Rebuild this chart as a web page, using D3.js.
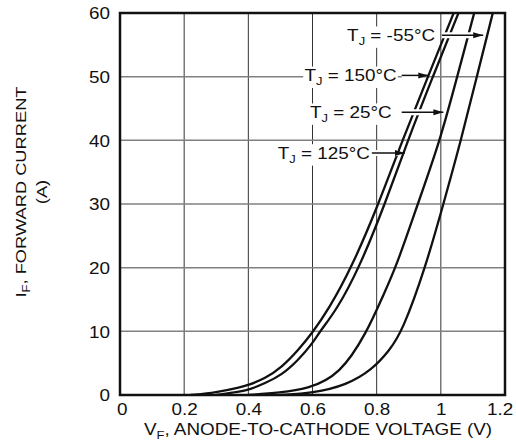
<!DOCTYPE html>
<html>
<head>
<meta charset="utf-8">
<script src="https://cdn.jsdelivr.net/npm/d3@7"></script>
<style>body{margin:0;background:#fff;}</style>
</head>
<body>
<div id="chart"></div>
<script>
// axis ticks
const voltTicks = [0, 0.2, 0.4, 0.6, 0.8, 1.0, 1.2];
const currentTicks = [0, 10, 20, 30, 40, 50, 60];

// forward characteristic, [V_F (V), I_F (A)]
const curve150 = [[0.22, 0], [0.30, 0.4], [0.374, 1.2], [0.40, 1.57], [0.452, 2.6], [0.504, 4.35], [0.556, 7.07], [0.60, 9.8], [0.649, 13.35], [0.722, 20], [0.806, 30], [0.880, 40], [0.960, 50], [1.040, 60]];
const curve125 = [[0.30, 0], [0.374, 0.52], [0.40, 0.79], [0.452, 1.83], [0.504, 3.14], [0.556, 5.5], [0.60, 8.1], [0.623, 10], [0.675, 13.35], [0.746, 20], [0.826, 30], [0.897, 40], [0.975, 50], [1.055, 60]];
const curve25 = [[0.40, 0], [0.50, 0.4], [0.582, 0.89], [0.686, 3.14], [0.771, 10], [0.818, 15.4], [0.860, 20], [0.928, 30], [0.998, 40], [1.051, 50], [1.104, 60]];
const curveM55 = [[0.50, 0], [0.60, 0.26], [0.707, 1.57], [0.785, 3.93], [0.840, 7.0], [0.880, 10], [0.952, 20], [1.008, 30], [1.063, 40], [1.112, 50], [1.162, 60]];

const temps = ["-55°C", "150°C", "25°C", "125°C"];

const width = 516, height = 444;
const SX = 1.18; // glyphs in the scan are drawn wider than Arial

const x = d3.scaleLinear().domain([0, 1.2]).range([120, 505]);
const y = d3.scaleLinear().domain([0, 60]).range([395, 13]);

// label placement (data units): text right edge, arrow start, arrow tip
const notes = [
    {t: temps[0], tx: 0.982, ti: 56.5, a0: 1.003, a1: 1.132},
    {t: temps[1], tx: 0.862, ti: 50.2, a0: 0.878, a1: 0.961},
    {t: temps[2], tx: 0.847, ti: 44.4, a0: 0.878, a1: 1.008},
    {t: temps[3], tx: 0.779, ti: 38.0, a0: 0.785, a1: 0.888}
];

const svg = d3.select("#chart").append("svg")
    .attr("width", width)
    .attr("height", height)
    .style("font-family", "'Liberation Sans', Arial, sans-serif");

svg.append("defs").append("clipPath").attr("id", "plot")
    .append("rect")
    .attr("x", x(0)).attr("y", y(60))
    .attr("width", x(1.2) - x(0)).attr("height", y(0) - y(60));

svg.append("defs").append("marker")
    .attr("id", "head")
    .attr("markerUnits", "userSpaceOnUse")
    .attr("markerWidth", 11).attr("markerHeight", 8)
    .attr("refX", 10).attr("refY", 3)
    .attr("orient", "auto")
    .append("path")
    .attr("d", "M0,0 L10,3 L0,6 Z")
    .attr("fill", "#111");

// grid
svg.append("g")
    .selectAll("line")
    .data(voltTicks.slice(1, -1))
    .join("line")
    .attr("x1", d => x(d)).attr("x2", d => x(d))
    .attr("y1", y(60)).attr("y2", y(0))
    .attr("stroke", "#333").attr("stroke-width", 1);

svg.append("g")
    .selectAll("line")
    .data(currentTicks.slice(1, -1))
    .join("line")
    .attr("x1", x(0)).attr("x2", x(1.2))
    .attr("y1", d => y(d)).attr("y2", d => y(d))
    .attr("stroke", "#808080").attr("stroke-width", 1.5);

// tick labels
const xAxis = svg.append("g")
    .attr("transform", `translate(0,${y(0)})`)
    .call(d3.axisBottom(x).tickValues(voltTicks).tickSize(0).tickPadding(0).tickFormat(d3.format("~g")));
xAxis.select(".domain").remove();
xAxis.selectAll("text")
    .attr("x", (d, i) => i === 0 ? 1.5 : (i === voltTicks.length - 1 ? -4.5 : 0))
    .attr("y", 20).attr("dy", 0)
    .attr("font-size", 16).attr("fill", "#111")
    .attr("transform", `scale(${SX},1)`);

const yAxis = svg.append("g")
    .attr("transform", `translate(${x(0)},0)`)
    .call(d3.axisLeft(y).tickValues(currentTicks).tickSize(0).tickPadding(0));
yAxis.select(".domain").remove();
yAxis.selectAll("text")
    .attr("x", -10 / SX).attr("dy", "0.36em")
    .attr("font-size", 16).attr("fill", "#111")
    .attr("transform", `scale(${SX},1)`);

// curves (B-spline smooths the reading noise)
const line = d3.line()
    .x(d => x(d[0]))
    .y(d => y(d[1]))
    .curve(d3.curveBasis);

const curves = svg.append("g").attr("clip-path", "url(#plot)");
curves.selectAll("path")
    .data([curve150, curve125, curve25, curveM55])
    .join("path")
    .attr("d", line)
    .attr("fill", "none")
    .attr("stroke", "#111")
    .attr("stroke-width", 2.3);

// arrows: white gap first, then the line
svg.append("g").selectAll("line")
    .data(notes)
    .join("line")
    .attr("x1", d => x(d.a0)).attr("x2", d => x(d.a1) - 7)
    .attr("y1", d => y(d.ti)).attr("y2", d => y(d.ti))
    .attr("stroke", "#fff").attr("stroke-width", 6);

svg.append("g").selectAll("line")
    .data(notes)
    .join("line")
    .attr("x1", d => x(d.a0)).attr("x2", d => x(d.a1))
    .attr("y1", d => y(d.ti)).attr("y2", d => y(d.ti))
    .attr("stroke", "#111").attr("stroke-width", 1.5)
    .attr("marker-end", "url(#head)");

// T_J labels on a white patch
const lab = svg.append("g").selectAll("g")
    .data(notes)
    .join("g")
    .attr("transform", d => `translate(${x(d.tx)},${y(d.ti)}) scale(${SX},1)`);

lab.each(function (d) {
    const g = d3.select(this);
    const bg = g.append("rect").attr("fill", "#fff");
    const t = g.append("text")
        .attr("text-anchor", "end")
        .attr("y", 5.8)
        .attr("font-size", 16)
        .attr("fill", "#111");
    t.append("tspan").text("T");
    t.append("tspan").attr("font-size", 11).attr("dy", 4).text("J");
    t.append("tspan").attr("dy", -4).text(" = " + d.t);
    const b = t.node().getBBox();
    bg.attr("x", b.x - 1).attr("y", b.y).attr("width", b.width + 2).attr("height", b.height);
});

// frame
svg.append("rect")
    .attr("x", x(0)).attr("y", y(60))
    .attr("width", x(1.2) - x(0)).attr("height", y(0) - y(60))
    .attr("fill", "none")
    .attr("stroke", "#111")
    .attr("stroke-width", 2.5);

// axis titles
const xt = svg.append("text")
    .attr("transform", `translate(318,435) scale(${SX},1)`)
    .attr("text-anchor", "middle")
    .attr("font-size", 16)
    .attr("fill", "#111");
xt.append("tspan").text("V");
xt.append("tspan").attr("font-size", 11).attr("dy", 4).text("F");
xt.append("tspan").attr("dy", -4).text(", ANODE-TO-CATHODE VOLTAGE (V)");

const yt = svg.append("text")
    .attr("transform", `translate(26,192) rotate(-90) scale(${SX},1)`)
    .attr("text-anchor", "middle")
    .attr("font-size", 15.5)
    .attr("fill", "#111");
yt.append("tspan").text("I");
yt.append("tspan").attr("font-size", 11).attr("dy", 4).text("F");
yt.append("tspan").attr("dy", -4).text(", FORWARD CURRENT");

svg.append("text")
    .attr("transform", `translate(47,192) rotate(-90) scale(${SX},1)`)
    .attr("text-anchor", "middle")
    .attr("font-size", 15.5)
    .attr("fill", "#111")
    .text("(A)");
</script>
</body>
</html>
